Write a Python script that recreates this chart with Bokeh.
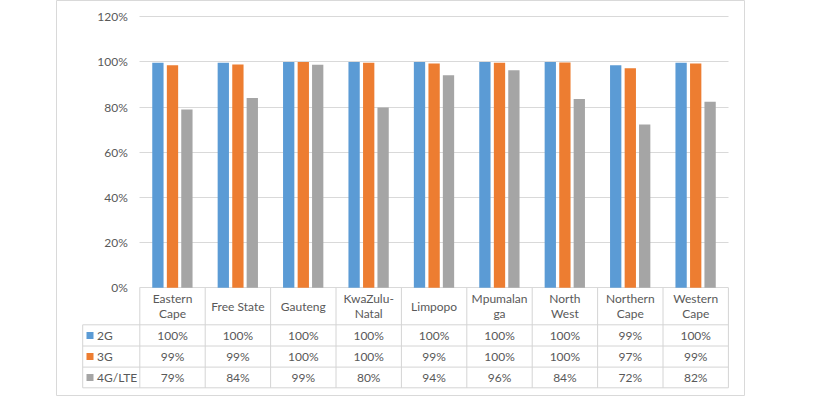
from bokeh.plotting import figure
from bokeh.models import Range1d, FixedTicker, ColumnDataSource
from bokeh.core.properties import value
from bokeh.embed import file_html
from bokeh.resources import INLINE

# ---------------- data ----------------
categories = ["Eastern\nCape", "Free State", "Gauteng", "KwaZulu-\nNatal", "Limpopo",
              "Mpumalan\nga", "North\nWest", "Northern\nCape", "Western\nCape"]
series_names = ["2G", "3G", "4G/LTE"]
coverage_2g = [99.6, 99.6, 100.0, 100.0, 100.0, 100.0, 100.0, 98.6, 99.7]
coverage_3g = [98.6, 98.9, 100.0, 99.6, 99.3, 99.6, 99.8, 97.2, 99.3]
coverage_4g = [78.9, 84.0, 98.8, 79.8, 94.1, 96.3, 83.6, 72.3, 82.4]
y_ticks = [0, 20, 40, 60, 80, 100, 120]
y_tick_labels = ["0%", "20%", "40%", "60%", "80%", "100%", "120%"]

# ---------------- styles / layout ----------------
colors = ["#5B9BD5", "#ED7D31", "#A5A5A5"]
TXT = "#595959"
LINE = "#d4d4d4"
FONT = "Lato"

X0, UX = 140.3, 65.4          # page px of x=0, px per category
Y0, UY = 288.3, 2.2583        # page px of y=0, px per percent
def xd(px): return (px - X0) / UX
def yd(px): return (Y0 - px) / UY

F_L, F_R, F_T, F_B = 57, 745, 1, 396
n = len(categories)

p = figure(frame_width=F_R - F_L, frame_height=F_B - F_T,
           x_range=Range1d(xd(F_L), xd(F_R)), y_range=Range1d(yd(F_B), yd(F_T)),
           x_axis_location=None, output_backend="svg", toolbar_location=None,
           min_border=1)
p.styles = {"position": "relative", "left": "55px", "top": "-1px"}
p.outline_line_color = "#d9d9d9"
p.outline_line_width = 1
p.background_fill_color = "white"
p.border_fill_color = "white"

# y axis placed at x = 0
ticker = FixedTicker(ticks=y_ticks)
ax = p.yaxis[0]
ax.ticker = ticker
ax.fixed_location = 0
ax.major_label_overrides = dict(zip(y_ticks, y_tick_labels))
ax.axis_line_color = None
ax.major_tick_line_color = None
ax.minor_tick_line_color = None
ax.major_tick_out = 0
ax.major_tick_in = 0
ax.major_label_standoff = 12
ax.major_label_text_font = FONT
ax.major_label_text_font_size = "12px"
ax.major_label_text_color = TXT

p.xgrid.visible = False
g = p.ygrid[0]
g.ticker = ticker
g.grid_line_color = "#d9d9d9"
g.grid_line_width = 1
if "cross_bounds" in g.properties():
    g.cross_bounds = (0, n)
else:
    g.visible = False
    p.segment(x0=[0] * len(y_ticks), x1=[n] * len(y_ticks), y0=y_ticks, y1=y_ticks,
              line_color="#d9d9d9", line_width=1)

# bars
series = [coverage_2g, coverage_3g, coverage_4g]
offsets = [-14.6 / UX, 0.0, 14.4 / UX]
bw = 11.3 / UX
for vals, off, c in zip(series, offsets, colors):
    src = ColumnDataSource(dict(x=[i + 0.5 + off for i in range(n)], top=vals))
    p.vbar(x="x", top="top", bottom=0, width=bw, source=src, fill_color=c, line_color=None)

# data table lines
row_px = [325.3, 346.5, 367.6, 388.3]
rows = [yd(v) for v in row_px]
xl = xd(83.2)
hx0, hx1, hy = [], [], []
for r in rows:
    hx0.append(xl); hx1.append(n); hy.append(r)
p.segment(x0=hx0, x1=hx1, y0=hy, y1=hy, line_color=LINE, line_width=1)
vx = list(range(n + 1)) + [xl]
vy0 = [0] * (n + 1) + [rows[0]]
vy1 = [rows[-1]] * (n + 2)
p.segment(x0=vx, x1=vx, y0=vy0, y1=vy1, line_color=LINE, line_width=1)

# header text
p.text(x=[i + 0.5 for i in range(n)], y=[yd((Y0 + row_px[0]) / 2)] * n, text=categories,
       text_align="center", text_baseline="middle", text_font=value(FONT),
       text_font_size="12px", text_color=TXT, text_line_height=1.0)

# value rows
row_tops = [row_px[0], row_px[1], row_px[2]]
row_bots = [row_px[1], row_px[2], row_px[3]]
for k, vals in enumerate(series):
    ymid = yd((row_tops[k] + row_bots[k]) / 2)
    p.text(x=[i + 0.5 for i in range(n)], y=[ymid] * n,
           text=[f"{round(v)}%" for v in vals],
           text_align="center", text_baseline="middle", text_font=value(FONT),
           text_font_size="12px", text_color=TXT)

# legend keys in table
ymids = [yd((row_tops[k] + row_bots[k]) / 2) for k in range(3)]
p.scatter(x=[xd(90.5)] * 3, y=ymids, marker="square", size=7, fill_color=colors, line_color=None)
p.text(x=[xd(97.5)] * 3, y=ymids, text=series_names, text_align="left", text_baseline="middle",
       text_font=value(FONT), text_font_size="12px", text_color=TXT)

open("out.html", "w").write(file_html(p, INLINE))
